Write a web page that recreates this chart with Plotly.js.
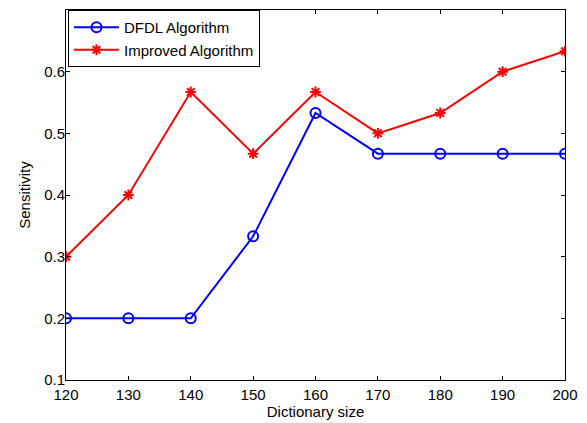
<!DOCTYPE html>
<html><head><meta charset="utf-8">
<script src="https://cdn.plot.ly/plotly-3.0.1.min.js"></script>
<style>body{margin:0;background:#fff}#c{width:587px;height:423px}</style>
</head><body><div id="c"></div>
<script>
const dictSize = [120,130,140,150,160,170,180,190,200];
const dfdl = [0.2,0.2,0.2,0.333,0.533,0.467,0.467,0.467,0.467];
const improved = [0.3,0.4,0.567,0.467,0.567,0.5,0.533,0.6,0.633];
const yTicks = [0.1,0.2,0.3,0.4,0.5,0.6];

const traces = [
 {x:dictSize,y:dfdl,name:'DFDL Algorithm',mode:'lines+markers',
  line:{color:'#0000ff',width:2},
  marker:{symbol:'circle-open',size:10,color:'#0000ff',line:{width:2,color:'#0000ff'}}},
 {x:dictSize,y:improved,name:'Improved Algorithm',mode:'lines+markers',
  line:{color:'#ff0000',width:2},
  marker:{symbol:'asterisk-open',size:9,color:'#ff0000',line:{width:2,color:'#ff0000'}}}
];
const F = 'Liberation Sans, Arial';
const axisCommon = {showline:true,linecolor:'#000',linewidth:1,mirror:'ticks',ticks:'inside',ticklen:4,tickcolor:'#000',showgrid:false,zeroline:false,
  tickfont:{family:F,size:15,color:'#000'}};
const layout = {
 width:587,height:423,margin:{l:66,r:22,t:10,b:43},
 paper_bgcolor:'#fff',plot_bgcolor:'#fff',
 font:{family:F,size:15,color:'#000'},
 xaxis:Object.assign({},axisCommon,{range:[120,200],tickvals:dictSize,ticklabelstandoff:1,title:{text:'Dictionary size',font:{size:15},standoff:2}}),
 yaxis:Object.assign({},axisCommon,{range:[0.1,0.7],tickvals:yTicks,ticktext:yTicks.map(v=>v.toFixed(1)),ticklabelstandoff:-3,title:{text:'Sensitivity',font:{size:15},standoff:9}}),
 showlegend:true,
 legend:{x:0.004,y:1,xanchor:'left',yanchor:'top',bordercolor:'#000',borderwidth:1,bgcolor:'#fff',font:{size:15},itemwidth:45,tracegroupgap:0}
};
Plotly.newPlot('c',traces,layout,{displayModeBar:false});
</script></body></html>
